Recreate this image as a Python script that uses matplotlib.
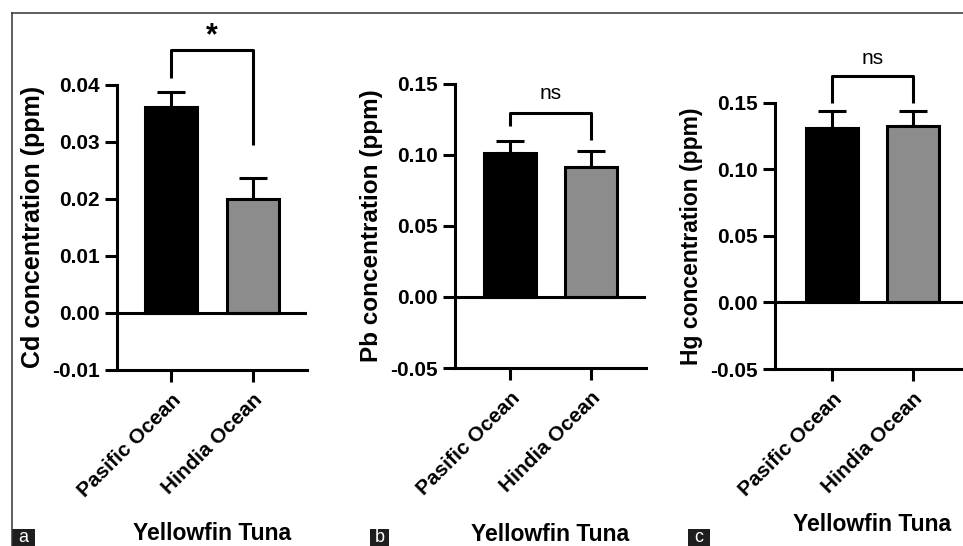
import matplotlib
matplotlib.use("Agg")
import matplotlib.pyplot as plt
from matplotlib.lines import Line2D
from matplotlib.patches import Rectangle

# data
categories = ["Pasific Ocean", "Hindia Ocean"]

cd_mean = [0.0361, 0.0200]
cd_err = [0.0026, 0.0036]
pb_mean = [0.1013, 0.0915]
pb_err = [0.0084, 0.0112]
hg_mean = [0.1308, 0.1323]
hg_err = [0.0128, 0.0113]

cd_ticks = [-0.01, 0.00, 0.01, 0.02, 0.03, 0.04]
cd_ticklabels = ["-0.01", "0.00", "0.01", "0.02", "0.03", "0.04"]
pbhg_ticks = [-0.05, 0.00, 0.05, 0.10, 0.15]
pbhg_ticklabels = ["-0.05", "0.00", "0.05", "0.10", "0.15"]

# significance brackets: top, left leg end, right leg end, label, label baseline
cd_sig = [0.0461, 0.0411, 0.0294, "*", 0.0470]
pb_sig = [0.1293, 0.1202, 0.1104, "ns", 0.1391]
hg_sig = [0.1700, 0.1500, 0.1500, "ns", 0.1790]

ylabels = ["Cd concentration (ppm)", "Pb concentration (ppm)", "Hg concentration (ppm)"]
xlabel = "Yellowfin Tuna"
panel_letters = ["a", "b", "c"]

bar_colors = ["#000000", "#8c8c8c"]

W, H = 963, 546
plt.rcParams["font.family"] = ["Liberation Sans", "DejaVu Sans"]
plt.rcParams["font.weight"] = "bold"

fig = plt.figure(figsize=(W / 100, H / 100), dpi=100)

# layout in pixels: left, right, top, bottom of the plotting box, bar centers
panels = [
    dict(mean=cd_mean, err=cd_err, ticks=cd_ticks, tl=cd_ticklabels, sig=cd_sig,
         box=(117, 307, 84.6, 369.7), centers=(171, 253), ylsize=18, xl_base=540,
         sig_size=22, sig_weight="bold", letter_x=(12, 35)),
    dict(mean=pb_mean, err=pb_err, ticks=pbhg_ticks, tl=pbhg_ticklabels, sig=pb_sig,
         box=(455, 646, 83.6, 368.0), centers=(510, 591), ylsize=17.5, xl_base=541,
         sig_size=15, sig_weight="normal", letter_x=(370, 389)),
    dict(mean=hg_mean, err=hg_err, ticks=pbhg_ticks, tl=pbhg_ticklabels, sig=hg_sig,
         box=(775, 963, 102.7, 369.0), centers=(832, 913), ylsize=16.5, xl_base=531,
         sig_size=15, sig_weight="normal", letter_x=(688, 710)),
]

lw = 2.2
for i, p in enumerate(panels):
    left, right, top, bottom = p["box"]
    ax = fig.add_axes([left / W, 1 - bottom / H, (right - left) / W, (bottom - top) / H])
    c0, c1 = p["centers"]
    sp = c1 - c0
    ax.set_xlim(-(c0 - left) / sp, 1 + (right - c1) / sp)
    ax.set_ylim(p["ticks"][0], p["ticks"][-1])

    x = [0, 1]
    ax.errorbar(x, p["mean"], yerr=[[0, 0], p["err"]], fmt="none", ecolor="black",
                elinewidth=lw, capsize=10, capthick=lw, zorder=2)
    ax.bar(x, p["mean"], width=0.63, color=bar_colors, edgecolor="black",
           linewidth=lw, zorder=3)
    ax.axhline(0, color="black", linewidth=lw, zorder=4)

    top_y, l_end, r_end, txt, txt_y = p["sig"]
    ax.plot([0, 0, 1, 1], [l_end, top_y, top_y, r_end], color="black", linewidth=lw,
            solid_joinstyle="round", solid_capstyle="butt", clip_on=False)
    ax.text(0.5, txt_y, txt, ha="center", va="baseline", fontsize=p["sig_size"],
            fontweight=p["sig_weight"], clip_on=False)

    for s in ["top", "right"]:
        ax.spines[s].set_visible(False)
    for s in ["left", "bottom"]:
        ax.spines[s].set_linewidth(lw)

    ax.set_yticks(p["ticks"])
    ax.set_yticklabels(p["tl"], fontsize=15, fontweight="bold")
    ax.set_xticks(x)
    ax.set_xticklabels(categories, fontsize=15, fontweight="bold", rotation=45,
                       ha="right", va="top", rotation_mode="anchor")
    ax.tick_params(axis="both", length=8.6, width=lw, direction="out", pad=4)
    ax.tick_params(axis="x", pad=6)

    ax.set_ylabel(ylabels[i], fontsize=p["ylsize"], fontweight="bold")
    ax.yaxis.set_label_coords(-72 / (right - left), 0.5)

    ax.annotate(xlabel, xy=(0.5, 1 - p["xl_base"] / H), xycoords=("data", "figure fraction"),
                ha="center", va="baseline", fontsize=16.5, fontweight="bold",
                annotation_clip=False)

    # panel letter box
    lx0, lx1 = p["letter_x"]
    fig.add_artist(Rectangle((lx0 / W, 0), (lx1 - lx0) / W, 17 / H,
                             transform=fig.transFigure, facecolor="#1e1e1e",
                             edgecolor="none"))
    fig.text((lx0 + lx1) / 2 / W, 3.5 / H, panel_letters[i], color="white", ha="center",
             va="baseline", fontsize=13, fontweight="normal")

# frame lines along top and left
fig.add_artist(Line2D([12 / W, 1], [1 - 13 / H, 1 - 13 / H], transform=fig.transFigure,
                      color="#333333", linewidth=1.1))
fig.add_artist(Line2D([12 / W, 12 / W], [0, 1 - 13 / H], transform=fig.transFigure,
                      color="#333333", linewidth=1.1))

fig.savefig("out.png", dpi=100)
